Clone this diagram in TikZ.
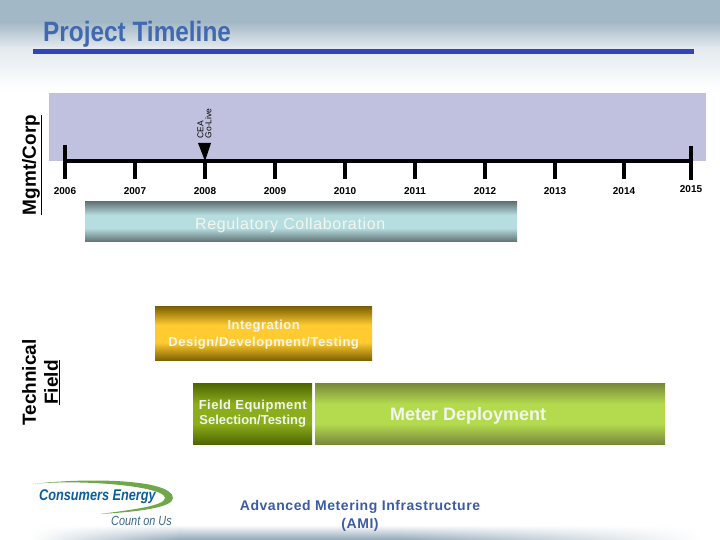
\documentclass[tikz,border=0pt]{standalone}
\usepackage{fontspec}
\setmainfont{Liberation Sans}
\newfontfamily\narrowfont[FakeStretch=0.82]{Liberation Sans}
\newfontfamily\titlefont[FakeStretch=0.87]{Liberation Sans}
\newfontfamily\spacedfont[LetterSpace=4]{Liberation Sans}
\usepackage{tikz}
\usetikzlibrary{positioning,shapes.geometric,fadings}
\definecolor{headblue}{HTML}{A3B8C6}
\definecolor{footblue}{HTML}{8FA6B7}
\definecolor{titleblue}{HTML}{4169B0}
\definecolor{ruleblue}{HTML}{3344B8}
\definecolor{laneblue}{HTML}{C0C1DF}
\definecolor{amiblue}{HTML}{3B5BA5}
\definecolor{logoblue}{HTML}{0B5E9E}
\definecolor{logogreen}{HTML}{6FA84A}
\definecolor{textwhite}{HTML}{F2F6EE}
% bar gradients, dark edge to light centre
\newcommand{\barshade}[3]{\pgfdeclareverticalshading{#1}{100bp}{
		color(0bp)=(#2); color(25bp)=(#2); color(42bp)=(#3); color(58bp)=(#3); color(75bp)=(#2); color(100bp)=(#2)}}
\newcommand{\droptext}[2]{\raisebox{-#1}[0pt][0pt]{#2}}
\definecolor{regdark}{HTML}{5F7072}
\definecolor{reglight}{HTML}{B6DDE0}
\definecolor{intdark}{HTML}{7D6000}
\definecolor{intlight}{HTML}{FFCB30}
\definecolor{equipdark}{HTML}{4C6400}
\definecolor{equiplight}{HTML}{8DAE1C}
\definecolor{meterdark}{HTML}{77863A}
\definecolor{meterlight}{HTML}{B4DB4E}
\barshade{regshade}{regdark}{reglight}
\barshade{intshade}{intdark}{intlight}
\barshade{equipshade}{equipdark}{equiplight}
\barshade{metershade}{meterdark}{meterlight}
\tikzstyle{bar} = [rectangle, inner sep=0pt, align=center, text=textwhite, anchor=north west]
\tikzstyle{tickline} = [line width=4pt, black]

\begin{document}
\begin{tikzpicture}[
			x=1pt, y=-1pt,
			year/.style={font=\bfseries\fontsize{10}{12}\selectfont, inner sep=0pt},
			lane/.style={font=\bfseries\fontsize{19}{22}\selectfont, rotate=90, inner sep=0pt, align=center},
		]
		\useasboundingbox (0,0) rectangle (720,540);

		% Page bands
		\fill[headblue] (0,0) rectangle (720,22);
		\shade[top color=headblue, bottom color=headblue!30!white] (0,22) rectangle (720,48);
		\shade[top color=headblue!30!white, bottom color=white] (0,48) rectangle (720,90);
		\shade[left color=white, right color=footblue, path fading=north] (30,525) rectangle (180,540);
		\fill[footblue, path fading=north] (180,525) rectangle (400,540);
		\shade[left color=footblue, right color=white, path fading=north] (400,525) rectangle (700,540);

		% Title
		\node[anchor=base west, inner sep=0pt, text=titleblue, font=\titlefont\bfseries\fontsize{28}{32}\selectfont] (title) at (43,41.7) {Project Timeline};
		\coordinate (rulestart) at (33,51.5);
		\coordinate (ruleend) at (694,51.5);
		\draw[ruleblue, line width=5pt] (rulestart) -- (ruleend);

		% Mgmt lane
		\fill[laneblue] (49,93) rectangle (706,161);
		\node[lane] (mgmt) at (32,165) {\underline{Mgmt/Corp}};
		\node[lane] (tech) at (41,382.5) {Technical\\\underline{Field}};

		% Time axis
		\foreach \yr/\xpos in {2006/65,2007/135,2008/205,2009/275,2010/345,2011/415,2012/485,2013/555,2014/624}{
			\coordinate (tick\yr) at (\xpos,161);
			\coordinate (tickend\yr) at (\xpos,179);
			\draw[tickline] (tick\yr) -- (tickend\yr);
			\node[year, below=26pt of tick\yr] (year\yr) {\yr};
		}
		\coordinate (tick2015) at (691,161);
		\coordinate (tickend2015) at (691,180);
		\coordinate (tickup2015) at (691,146);
		\coordinate (tickup2006) at (65,145);
		\draw[tickline] (tick2006) -- (tick2015);
		\draw[tickline] (tickup2006) -- (tick2006);
		\draw[tickline] (tickup2015) -- (tickend2015);
		\node[year, below=24pt of tick2015] (year2015) {2015};

		% CEA marker
		\fill[black] (198,143) -- (211,143) -- (205,161) -- cycle;
		\node[rotate=90, anchor=west, inner sep=0pt, align=left, font=\fontsize{8.5}{8}\selectfont] (golive) at (204.5,138.5) {CEA\\Go-Live};

		% Regulatory bar
		\node[bar, shading=regshade, minimum width=432pt, minimum height=40.7pt, font=\spacedfont\fontsize{16}{17}\selectfont] (reg) at (85,201) {\droptext{7.5pt}{Regulatory Collaboration}\hspace*{22pt}};

		% Integration bar
		\node[bar, shading=intshade, minimum width=217pt, minimum height=54pt, font=\spacedfont\bfseries\fontsize{13}{17}\selectfont, below right=64.3pt and 70pt of reg.south west] (integ) {\droptext{4.5pt}{Integration}\\\droptext{4.5pt}{Design/Development/Testing}};

		% Equipment bar
		\node[bar, shading=equipshade, minimum width=119pt, minimum height=61.7pt, font=\bfseries\fontsize{13}{15}\selectfont, below right=22pt and 38pt of integ.south west] (equip) {{\spacedfont Field Equipment}\\Selection/Testing};

		% Meter bar
		\node[bar, shading=metershade, minimum width=350pt, minimum height=61.7pt, font=\bfseries\fontsize{18}{19}\selectfont, right=2.5pt of equip.north east, anchor=north west] (meter) {\droptext{7pt}{Meter Deployment}\hspace*{44pt}};

		% Program name
		\node[inner sep=0pt, align=center, text=amiblue, font=\spacedfont\bfseries\fontsize{14}{18}\selectfont] (ami) at (360,516) {Advanced Metering Infrastructure\\(AMI)};

		% Logo
		\fill[logogreen] (33,484) .. controls (80,478) and (172,478) .. (173,498) .. controls (173,508) and (135,512) .. (100,514) .. controls (130,510) and (165,506) .. (165,498) .. controls (165,486) and (80,479) .. (33,484) -- cycle;
		\node[anchor=west, inner sep=0pt, text=logoblue, font=\narrowfont\bfseries\itshape\fontsize{15.5}{18}\selectfont] (logoname) at (39,497) {Consumers Energy};
		\node[anchor=west, inner sep=0pt, text=logoblue!70!black!80, font=\narrowfont\itshape\fontsize{13.3}{15}\selectfont] (logotag) at (111,521) {Count on Us};
	\end{tikzpicture}
\end{document}
